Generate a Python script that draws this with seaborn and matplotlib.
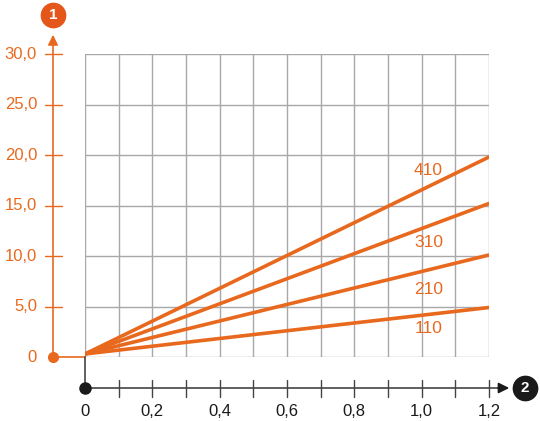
import matplotlib
matplotlib.use("Agg")
import matplotlib.pyplot as plt
import seaborn as sns
import pandas as pd

# values
x_vals = [0.0, 1.2]
series = ["410", "310", "210", "110"]
y_410 = [0.3, 19.8]
y_310 = [0.3, 15.2]
y_210 = [0.3, 10.1]
y_110 = [0.3, 4.9]
label_pos = {"410": (1.02, 18.5), "310": (1.02, 11.3), "210": (1.02, 6.7), "110": (1.02, 2.8)}

x_ticks = [0, 0.2, 0.4, 0.6, 0.8, 1.0, 1.2]
x_labels = ["0", "0,2", "0,4", "0,6", "0,8", "1,0", "1,2"]
y_ticks = [0, 5, 10, 15, 20, 25, 30]
y_labels = ["0", "5,0", "10,0", "15,0", "20,0", "25,0", "30,0"]

orange = "#E8691E"
dark = "#1a1a1a"

rows = []
for name, ys in zip(series, [y_410, y_310, y_210, y_110]):
    for x, y in zip(x_vals, ys):
        rows.append({"x": x, "y": y, "series": name})
df = pd.DataFrame(rows)

sns.set_style("white")
plt.rcParams["font.family"] = ["Liberation Sans", "DejaVu Sans"]

fig = plt.figure(figsize=(5.4, 4.21), dpi=100)
W, H = 540, 421
ax = fig.add_axes([85 / W, 1 - 357 / H, (489 - 85) / W, (357 - 54) / H])
ax.set_xlim(0, 1.2)
ax.set_ylim(0, 30)

# grid
for gx in [i / 10 for i in range(13)]:
    ax.axvline(gx, color="#a8a8a8", lw=1, zorder=0)
for gy in y_ticks:
    ax.axhline(gy, color="#a8a8a8", lw=1, zorder=0)

sns.lineplot(data=df, x="x", y="y", hue="series", palette=[orange] * 4,
             lw=2.6, legend=False, ax=ax, zorder=3)
for name, (lx, ly) in label_pos.items():
    ax.text(lx, ly, name, color=orange, fontsize=12.5, ha="center", va="center")

for s in ax.spines.values():
    s.set_visible(False)
ax.set_xticks([])
ax.set_yticks([])
ax.set_xlabel("")
ax.set_ylabel("")

# pixel -> data helpers
px = lambda p: (p - 85) / (489 - 85) * 1.2
py = lambda p: (357 - p) / (357 - 54) * 30

# orange y axis
yax = px(53)
ax.plot([yax, yax], [0, py(44)], color=orange, lw=1.2, clip_on=False)
ax.plot([yax, 0], [0, 0], color=orange, lw=1.2, clip_on=False)
ax.plot([yax], [0], "o", color=orange, ms=7, clip_on=False)
ax.annotate("", xy=(yax, py(32)), xytext=(yax, py(47)),
            arrowprops=dict(arrowstyle="-|>", color=orange, lw=1.2, mutation_scale=15),
            annotation_clip=False)
for t, lab in zip(y_ticks, y_labels):
    if t > 0:
        ax.plot([px(45), px(62)], [t, t], color=orange, lw=1, clip_on=False)
    ax.text(px(37), t, lab, color=orange, fontsize=12, ha="right", va="center")
ax.plot([yax], [py(15)], "o", color="#E5561A", ms=17.5, clip_on=False)
ax.text(yax, py(15), "1", color="white", fontsize=11, fontweight="bold",
        ha="center", va="center")

# black x axis
xay = py(388)
ax.plot([0, 0], [0, xay], color="#444444", lw=1.2, clip_on=False)
ax.plot([0, px(497)], [xay, xay], color="#444444", lw=1.2, clip_on=False)
ax.plot([0], [xay], "o", color=dark, ms=8, clip_on=False)
ax.annotate("", xy=(px(512), xay), xytext=(px(495), xay),
            arrowprops=dict(arrowstyle="-|>", color=dark, lw=1.2, mutation_scale=16),
            annotation_clip=False)
for t in [i / 10 for i in range(1, 13)]:
    ax.plot([t, t], [py(380), py(397)], color="#444444", lw=1, clip_on=False)
for t, lab in zip(x_ticks, x_labels):
    ax.text(t, py(412), lab, color=dark, fontsize=12, ha="center", va="center")
ax.plot([px(525)], [xay], "o", color=dark, ms=17.5, clip_on=False)
ax.text(px(525), xay, "2", color="white", fontsize=11, fontweight="bold",
        ha="center", va="center")

fig.savefig("out.png", dpi=100)
